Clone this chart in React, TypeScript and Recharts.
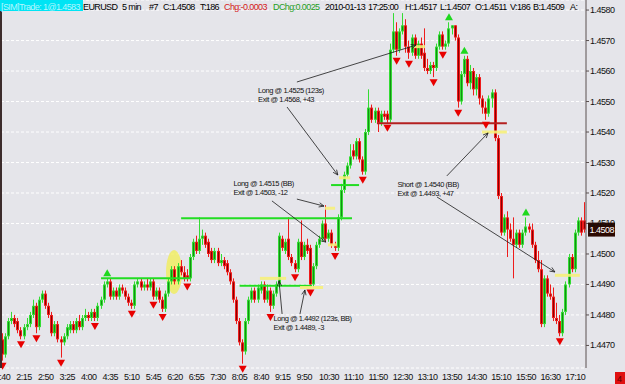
import React from 'react';
import { ComposedChart, Bar, XAxis, YAxis, CartesianGrid, ReferenceLine, ReferenceDot } from 'recharts';

const FONT = '"Liberation Sans", Arial, sans-serif';

// EURUSD 5 min bars, 1:40 .. 17:25
const opens = [
  1.4472, 1.4467, 1.4473, 1.4478, 1.4479, 1.4478, 1.4475, 1.4473, 1.4476, 1.4477,
  1.4480, 1.4483, 1.4476, 1.4485, 1.4487, 1.4483, 1.4480, 1.4474, 1.4477, 1.4472,
  1.4471, 1.4473, 1.4475, 1.4477, 1.4475, 1.4478, 1.4476, 1.4479, 1.4480, 1.4479,
  1.4481, 1.4479, 1.4483, 1.4485, 1.4490, 1.4491, 1.4486, 1.4488, 1.4486, 1.4489,
  1.4488, 1.4486, 1.4484, 1.4483, 1.4490, 1.4491, 1.4489, 1.4490, 1.4489, 1.4491,
  1.4486, 1.4488, 1.4485, 1.4482, 1.4487, 1.4491, 1.4495, 1.4491, 1.4496, 1.4494,
  1.4493, 1.4492, 1.4499, 1.4504, 1.4501, 1.4505, 1.4506, 1.4504, 1.4501, 1.4498,
  1.4501, 1.4497, 1.4498, 1.4497, 1.4494, 1.4491, 1.4485, 1.4478, 1.4471, 1.4468,
  1.4478, 1.4485, 1.4488, 1.4485, 1.4488, 1.4490, 1.4485, 1.4488, 1.4483, 1.4487,
  1.4490, 1.4505, 1.4501, 1.4505, 1.4499, 1.4497, 1.4495, 1.4504, 1.4499, 1.4503,
  1.4502, 1.4490, 1.4496, 1.4503, 1.4505, 1.4510, 1.4505, 1.4507, 1.4503, 1.4502,
  1.4512, 1.4521, 1.4526, 1.4529, 1.4534, 1.4532, 1.4537, 1.4531, 1.4527, 1.4540,
  1.4548, 1.4544, 1.4547, 1.4543, 1.4546, 1.4546, 1.4544, 1.4567, 1.4573, 1.4567,
  1.4573, 1.4575, 1.4568, 1.4566, 1.4571, 1.4565, 1.4569, 1.4566, 1.4561, 1.4560,
  1.4562, 1.4561, 1.4568, 1.4572, 1.4568, 1.4569, 1.4574, 1.4575, 1.4571, 1.4550,
  1.4559, 1.4564, 1.4556, 1.4560, 1.4554, 1.4558, 1.4551, 1.4548, 1.4546, 1.4551,
  1.4553, 1.4538, 1.4519, 1.4507, 1.4512, 1.4508, 1.4505, 1.4503, 1.4507, 1.4503,
  1.4507, 1.4509, 1.4508, 1.4503, 1.4498, 1.4495, 1.4477, 1.4492, 1.4487, 1.4486,
  1.4479, 1.4478, 1.4474, 1.4481, 1.4490, 1.4499, 1.4495, 1.4507, 1.4511, 1.4511,
];
const highs = [
  1.4474, 1.4474, 1.4479, 1.4481, 1.4480, 1.4479, 1.4476, 1.4477, 1.4479, 1.4481,
  1.4485, 1.4484, 1.4486, 1.4488, 1.4488, 1.4484, 1.4481, 1.4478, 1.4478, 1.4473,
  1.4474, 1.4477, 1.4478, 1.4478, 1.4479, 1.4480, 1.4480, 1.4482, 1.4481, 1.4482,
  1.4482, 1.4484, 1.4486, 1.4491, 1.4492, 1.4492, 1.4489, 1.4489, 1.4490, 1.4490,
  1.4489, 1.4487, 1.4485, 1.4491, 1.4492, 1.4492, 1.4491, 1.4492, 1.4492, 1.4492,
  1.4489, 1.4489, 1.4486, 1.4488, 1.4492, 1.4496, 1.4496, 1.4497, 1.4498, 1.4496,
  1.4495, 1.4500, 1.4505, 1.4506, 1.4512, 1.4508, 1.4507, 1.4505, 1.4502, 1.4502,
  1.4502, 1.4500, 1.4499, 1.4498, 1.4495, 1.4492, 1.4486, 1.4479, 1.4472, 1.4479,
  1.4486, 1.4489, 1.4489, 1.4490, 1.4491, 1.4491, 1.4490, 1.4489, 1.4488, 1.4491,
  1.4507, 1.4506, 1.4505, 1.4512, 1.4500, 1.4498, 1.4505, 1.4511, 1.4504, 1.4505,
  1.4503, 1.4497, 1.4504, 1.4506, 1.4511, 1.4516, 1.4508, 1.4508, 1.4504, 1.4513,
  1.4523, 1.4527, 1.4530, 1.4536, 1.4536, 1.4538, 1.4538, 1.4532, 1.4541, 1.4554,
  1.4549, 1.4548, 1.4548, 1.4547, 1.4547, 1.4547, 1.4569, 1.4579, 1.4576, 1.4574,
  1.4579, 1.4577, 1.4570, 1.4572, 1.4572, 1.4570, 1.4571, 1.4574, 1.4564, 1.4563,
  1.4563, 1.4569, 1.4573, 1.4573, 1.4570, 1.4576, 1.4575, 1.4575, 1.4572, 1.4560,
  1.4565, 1.4565, 1.4562, 1.4561, 1.4559, 1.4559, 1.4552, 1.4550, 1.4552, 1.4554,
  1.4554, 1.4539, 1.4520, 1.4513, 1.4514, 1.4510, 1.4512, 1.4508, 1.4508, 1.4508,
  1.4512, 1.4510, 1.4510, 1.4504, 1.4501, 1.4498, 1.4493, 1.4493, 1.4490, 1.4489,
  1.4484, 1.4480, 1.4482, 1.4491, 1.4500, 1.4500, 1.4508, 1.4512, 1.4512, 1.4517,
];
const lows = [
  1.4465, 1.4466, 1.4472, 1.4477, 1.4476, 1.4474, 1.4472, 1.4472, 1.4475, 1.4476,
  1.4479, 1.4474, 1.4475, 1.4484, 1.4482, 1.4479, 1.4473, 1.4473, 1.4471, 1.4466,
  1.4470, 1.4472, 1.4474, 1.4474, 1.4474, 1.4475, 1.4475, 1.4478, 1.4478, 1.4478,
  1.4478, 1.4478, 1.4482, 1.4484, 1.4489, 1.4485, 1.4485, 1.4485, 1.4485, 1.4487,
  1.4485, 1.4483, 1.4482, 1.4482, 1.4489, 1.4488, 1.4488, 1.4488, 1.4488, 1.4485,
  1.4485, 1.4484, 1.4481, 1.4481, 1.4486, 1.4490, 1.4490, 1.4490, 1.4493, 1.4491,
  1.4491, 1.4491, 1.4498, 1.4500, 1.4500, 1.4503, 1.4502, 1.4499, 1.4497, 1.4497,
  1.4496, 1.4496, 1.4495, 1.4493, 1.4490, 1.4484, 1.4477, 1.4470, 1.4464, 1.4467,
  1.4477, 1.4484, 1.4484, 1.4484, 1.4487, 1.4484, 1.4484, 1.4481, 1.4482, 1.4486,
  1.4489, 1.4501, 1.4500, 1.4498, 1.4496, 1.4494, 1.4494, 1.4498, 1.4498, 1.4500,
  1.4489, 1.4489, 1.4495, 1.4502, 1.4504, 1.4504, 1.4504, 1.4502, 1.4501, 1.4501,
  1.4511, 1.4520, 1.4525, 1.4528, 1.4531, 1.4531, 1.4530, 1.4526, 1.4526, 1.4539,
  1.4543, 1.4543, 1.4540, 1.4542, 1.4544, 1.4543, 1.4543, 1.4566, 1.4565, 1.4566,
  1.4572, 1.4566, 1.4564, 1.4565, 1.4564, 1.4564, 1.4564, 1.4560, 1.4559, 1.4559,
  1.4558, 1.4560, 1.4567, 1.4567, 1.4567, 1.4568, 1.4572, 1.4570, 1.4548, 1.4549,
  1.4558, 1.4555, 1.4554, 1.4552, 1.4552, 1.4549, 1.4546, 1.4544, 1.4545, 1.4548,
  1.4537, 1.4518, 1.4506, 1.4506, 1.4499, 1.4504, 1.4492, 1.4502, 1.4502, 1.4502,
  1.4506, 1.4507, 1.4502, 1.4497, 1.4494, 1.4476, 1.4476, 1.4486, 1.4485, 1.4478,
  1.4477, 1.4473, 1.4473, 1.4480, 1.4489, 1.4494, 1.4494, 1.4506, 1.4506, 1.4507,
];
const closes = [
  1.4467, 1.4473, 1.4478, 1.4479, 1.4477, 1.4475, 1.4473, 1.4476, 1.4477, 1.4480,
  1.4483, 1.4476, 1.4485, 1.4487, 1.4483, 1.4480, 1.4474, 1.4477, 1.4472, 1.4471,
  1.4473, 1.4476, 1.4477, 1.4475, 1.4478, 1.4476, 1.4479, 1.4480, 1.4479, 1.4481,
  1.4479, 1.4483, 1.4485, 1.4490, 1.4491, 1.4486, 1.4488, 1.4486, 1.4489, 1.4488,
  1.4486, 1.4484, 1.4483, 1.4490, 1.4491, 1.4489, 1.4490, 1.4489, 1.4491, 1.4486,
  1.4488, 1.4485, 1.4482, 1.4487, 1.4491, 1.4495, 1.4491, 1.4496, 1.4494, 1.4492,
  1.4492, 1.4499, 1.4504, 1.4501, 1.4505, 1.4506, 1.4503, 1.4500, 1.4498, 1.4501,
  1.4497, 1.4498, 1.4496, 1.4494, 1.4491, 1.4485, 1.4478, 1.4471, 1.4468, 1.4478,
  1.4485, 1.4488, 1.4485, 1.4489, 1.4490, 1.4485, 1.4488, 1.4483, 1.4487, 1.4490,
  1.4506, 1.4502, 1.4504, 1.4499, 1.4497, 1.4495, 1.4504, 1.4499, 1.4503, 1.4501,
  1.4490, 1.4496, 1.4503, 1.4505, 1.4510, 1.4505, 1.4507, 1.4503, 1.4502, 1.4512,
  1.4521, 1.4526, 1.4529, 1.4532, 1.4532, 1.4537, 1.4531, 1.4527, 1.4540, 1.4548,
  1.4544, 1.4547, 1.4543, 1.4546, 1.4545, 1.4544, 1.4567, 1.4573, 1.4567, 1.4573,
  1.4575, 1.4568, 1.4566, 1.4571, 1.4565, 1.4569, 1.4565, 1.4561, 1.4560, 1.4562,
  1.4561, 1.4568, 1.4572, 1.4568, 1.4569, 1.4574, 1.4575, 1.4571, 1.4550, 1.4559,
  1.4564, 1.4556, 1.4560, 1.4554, 1.4558, 1.4551, 1.4548, 1.4546, 1.4551, 1.4553,
  1.4538, 1.4519, 1.4507, 1.4512, 1.4508, 1.4505, 1.4503, 1.4507, 1.4503, 1.4507,
  1.4509, 1.4508, 1.4503, 1.4498, 1.4495, 1.4477, 1.4492, 1.4487, 1.4486, 1.4479,
  1.4478, 1.4474, 1.4481, 1.4490, 1.4499, 1.4495, 1.4507, 1.4511, 1.4507, 1.4508,
];

const timeTicks = [0, 7, 14, 21, 28, 35, 42, 49, 56, 63, 70, 77, 84, 91, 98, 106, 114, 122, 130, 138, 146, 154, 162, 170, 178, 186];
const timeLabels = ['1:40', '2:15', '2:50', '3:25', '4:00', '4:35', '5:10', '5:45', '6:20', '6:55', '7:30', '8:05', '8:40', '9:15', '9:50',
  '10:30', '11:10', '11:50', '12:30', '13:10', '13:50', '14:30', '15:10', '15:50', '16:30', '17:10'];
const priceTicks = [1.447, 1.448, 1.449, 1.45, 1.451, 1.452, 1.453, 1.454, 1.455, 1.456, 1.457, 1.458];

// signal arrows (bar index)
const downSignals = [0, 6, 11, 19, 30, 42, 49, 52, 60, 78, 87, 95, 100, 108, 117, 125, 128, 132, 140, 143, 148, 157, 181];
const upSignals = [34, 145, 150, 170];

// drawn levels [from bar, to bar, price]
const greenLevels = [
  [32, 61, 1.4492],
  [58, 113.5, 1.45117],
  [77, 100.5, 1.44896],
  [106.7, 115.8, 1.45226],
];
const redLevels = [[121.6, 163.8, 1.45429]];
// trade entries / exits
const fills = [
  [83.6, 92.1, 1.4492],
  [96.6, 104.1, 1.4489],
  [104.7, 108, 1.4515],
  [105.7, 108.6, 1.4503],
  [109.3, 112.9, 1.4525],
  [133.6, 137.2, 1.4568],
  [155.7, 163.8, 1.454],
  [179.4, 187.5, 1.4493],
];
const notes = [
  { at: 83, price: 1.45528, lines: ['Long @ 1.4525 (123s)', 'Exit @ 1.4568, +43'] },
  { at: 75, price: 1.45223, lines: ['Long @ 1.4515 (BB)', 'Exit @ 1.4503, -12'] },
  { at: 88, price: 1.4478, lines: ['Long @ 1.4492 (123s, BB)', 'Exit @ 1.4489, -3'] },
  { at: 128.3, price: 1.4522, lines: ['Short @ 1.4540 (BB)', 'Exit @ 1.4493, +47'] },
];
const pointers = [
  [95.6, 1.45564, 134.3, 1.45685],
  [92.4, 1.45482, 108.9, 1.45259],
  [95.6, 1.4518, 104.4, 1.45157],
  [87.5, 1.45174, 105.0, 1.45039],
  [90.8, 1.44803, 89.8, 1.44911],
  [96.6, 1.44803, 98.2, 1.44882],
  [144.3, 1.45256, 157.7, 1.45397],
  [141.1, 1.45187, 179.4, 1.44941],
];

const data = opens.map((open, i) => ({ i, open, high: highs[i], low: lows[i], close: closes[i] }));
const last = data[data.length - 1];

function Candle(props: any) {
  const { x, y, width, height, payload } = props;
  if (!payload || x == null) return null;
  const { open, close, high, low } = payload;
  const top = Math.min(y, y + height);
  const h = Math.abs(height);
  const k = h / (high - low);
  const cx = Math.floor(x + width / 2) + 0.5;
  const up = close >= open;
  const bright = up ? '#34dc34' : '#ee1c1c';
  const dark = up ? '#139013' : '#8a0000';
  const bTop = top + (high - Math.max(open, close)) * k;
  const bH = Math.max(1, Math.abs(open - close) * k);
  return (
    <g>
      <line x1={cx} x2={cx} y1={top} y2={top + h} stroke={bright} strokeWidth={1} />
      <rect x={cx - 1.5} y={bTop} width={3} height={bH} fill={bright} />
      {bH > 3 && <line x1={cx} x2={cx} y1={bTop + 1} y2={bTop + bH - 1} stroke={dark} strokeWidth={1} />}
    </g>
  );
}

const DownArrow = ({ cx, cy }: any) => (
  <polygon points={`${cx - 4},${cy + 2} ${cx + 4},${cy + 2} ${cx},${cy + 9}`} fill="#e80000" />
);
const UpArrow = ({ cx, cy }: any) => (
  <polygon points={`${cx - 4},${cy - 2} ${cx + 4},${cy - 2} ${cx},${cy - 9}`} fill="#1ed81e" />
);

const ArrowLine = (p: any) => {
  const { x1, y1, x2, y2 } = p;
  if (x1 == null) return null;
  const a = Math.atan2(y2 - y1, x2 - x1);
  const L = 5;
  const W = 2.2;
  const hx = x2 - L * Math.cos(a);
  const hy = y2 - L * Math.sin(a);
  const s = Math.sin(a);
  const c = Math.cos(a);
  return (
    <g>
      <line x1={x1} y1={y1} x2={x2} y2={y2} stroke="#1a1a1a" strokeWidth={0.8} />
      <polyline
        points={`${hx + W * s},${hy - W * c} ${x2},${y2} ${hx - W * s},${hy + W * c}`}
        fill="none"
        stroke="#1a1a1a"
        strokeWidth={0.8}
      />
    </g>
  );
};

const noteShape = (lines: string[]) => ({ cx, cy }: any) => (
  <text x={cx} y={cy} fontSize={7.5} letterSpacing={-0.45} fontFamily={FONT} fill="#111">
    {lines.map((l, k) => (
      <tspan key={k} x={cx} dy={k === 0 ? 0 : 9}>
        {l}
      </tspan>
    ))}
  </text>
);

const PriceBox = ({ cx, cy }: any) => (
  <g>
    <rect x={cx + 2} y={cy - 7} width={27} height={14} fill="#2c0a02" />
    <text x={cx + 3.5} y={cy + 3} fontSize={9} letterSpacing={-0.5} fontFamily={FONT} fill="#ffffff">
      {last.close.toFixed(4)}
    </text>
  </g>
);

const YTick = ({ x, y, payload }: any) => (
  <text x={x} y={y + 3} fontSize={9} letterSpacing={-0.5} fontFamily={FONT} fill="#111">
    {Number(payload.value).toFixed(4)}
  </text>
);
// bottom labels sit on a fixed baseline just under the axis
const XTick = ({ x, payload }: any) => (
  <text x={x} y={380} fontSize={9} letterSpacing={-0.5} fontFamily={FONT} fill="#111" textAnchor="middle">
    {timeLabels[timeTicks.indexOf(payload.value)]}
  </text>
);

const header: [number, string, string][] = [
  [83, 'EURUSD', '#000'],
  [122, '5 min', '#000'],
  [149, '#7', '#000'],
  [163, 'C:1.4508', '#000'],
  [200, 'T:186', '#000'],
  [224, 'Chg:-0.0003', '#d42020'],
  [273, 'DChg:0.0025', '#1f9e1f'],
  [325, '2010-01-13', '#000'],
  [368, '17:25:00', '#000'],
  [405, 'H:1.4517', '#000'],
  [440, 'L:1.4507', '#000'],
  [475, 'O:1.4511', '#000'],
  [510, 'V:186', '#000'],
  [533, 'B:1.4509', '#000'],
  [570, 'A:', '#000'],
];

export default function App() {
  return (
    <div style={{ position: 'fixed', left: 0, top: 0, width: 625, height: 384, background: '#e5e5ea', fontFamily: FONT }}>
      <ComposedChart width={625} height={384} data={data} margin={{ top: 0, right: 0, left: 1, bottom: 0 }} barCategoryGap={0}>
        <CartesianGrid vertical={false} stroke="#ffffff" strokeDasharray="3 2" />
        <XAxis dataKey="i" type="category" hide />
        <XAxis
          xAxisId="n"
          dataKey="i"
          type="number"
          domain={[-0.5, 189.5]}
          allowDataOverflow
          ticks={timeTicks}
          interval={0}
          height={16}
          tickSize={3}
          tickMargin={2}
          axisLine={{ stroke: '#5a5050' }}
          tickLine={{ stroke: '#5a5050' }}
          tick={<XTick />}
        />
        <YAxis
          orientation="right"
          domain={[1.44626, 1.45833]}
          allowDataOverflow
          ticks={priceTicks}
          interval={0}
          width={39}
          tickSize={3}
          tickMargin={1}
          axisLine={{ stroke: '#5a5050' }}
          tickLine={{ stroke: '#5a5050' }}
          tick={<YTick />}
        />
        <ReferenceDot
          xAxisId="n"
          x={55.7}
          y={1.44941}
          r={1}
          zIndex={50}
          shape={({ cx, cy }: any) => <ellipse cx={cx} cy={cy} rx={8} ry={22} fill="#f2ee50" fillOpacity={0.75} />}
        />
        <Bar dataKey={(d: any) => [d.low, d.high]} shape={(p: any) => <Candle {...p} />} isAnimationActive={false} />
        {greenLevels.map(([a, b, p], k) => (
          <ReferenceLine key={'g' + k} xAxisId="n" segment={[{ x: a, y: p }, { x: b, y: p }]} stroke="#22dd22" strokeWidth={2} />
        ))}
        {redLevels.map(([a, b, p], k) => (
          <ReferenceLine key={'r' + k} xAxisId="n" segment={[{ x: a, y: p }, { x: b, y: p }]} stroke="#b42020" strokeWidth={2} />
        ))}
        {fills.map(([a, b, p], k) => (
          <ReferenceLine key={'f' + k} xAxisId="n" segment={[{ x: a, y: p }, { x: b, y: p }]} stroke="#f6f07a" strokeWidth={3} strokeOpacity={0.9} />
        ))}
        {downSignals.map((i) => (
          <ReferenceDot key={'d' + i} xAxisId="n" x={i} y={lows[i]} r={1} shape={DownArrow} ifOverflow="visible" />
        ))}
        {upSignals.map((i) => (
          <ReferenceDot key={'u' + i} xAxisId="n" x={i} y={highs[i]} r={1} shape={UpArrow} />
        ))}
        {pointers.map(([a, p, b, q], k) => (
          <ReferenceLine key={'p' + k} xAxisId="n" segment={[{ x: a, y: p }, { x: b, y: q }]} shape={ArrowLine} />
        ))}
        {notes.map((n, k) => (
          <ReferenceDot key={'n' + k} xAxisId="n" x={n.at} y={n.price} r={1} shape={noteShape(n.lines)} />
        ))}
        <ReferenceDot xAxisId="n" x={189.5} y={last.close} r={1} shape={PriceBox} ifOverflow="visible" />
      </ComposedChart>
      <svg width={625} height={384} style={{ position: 'absolute', left: 0, top: 0, pointerEvents: 'none' }}>
        <line x1={1} y1={0} x2={1} y2={368} stroke="#3c2c2c" strokeWidth={2} />
        <rect x={0} y={0} width={83} height={11} fill="#00e4f4" />
        <text x={1} y={9.5} fontSize={9} letterSpacing={-0.6} fontFamily={FONT} fill="#b4f6ff">
          [SIM]Trade: 1@1.4583
        </text>
        {header.map(([x, t, c]) => (
          <text key={t} x={x} y={9.5} fontSize={9} letterSpacing={-0.6} fontFamily={FONT} fill={c}>
            {t}
          </text>
        ))}
        <rect x={615} y={372} width={10} height={12} fill="#e01010" />
        <text x={617} y={382} fontSize={9} fontFamily={FONT} fill="#5a0000">
          4
        </text>
      </svg>
    </div>
  );
}
